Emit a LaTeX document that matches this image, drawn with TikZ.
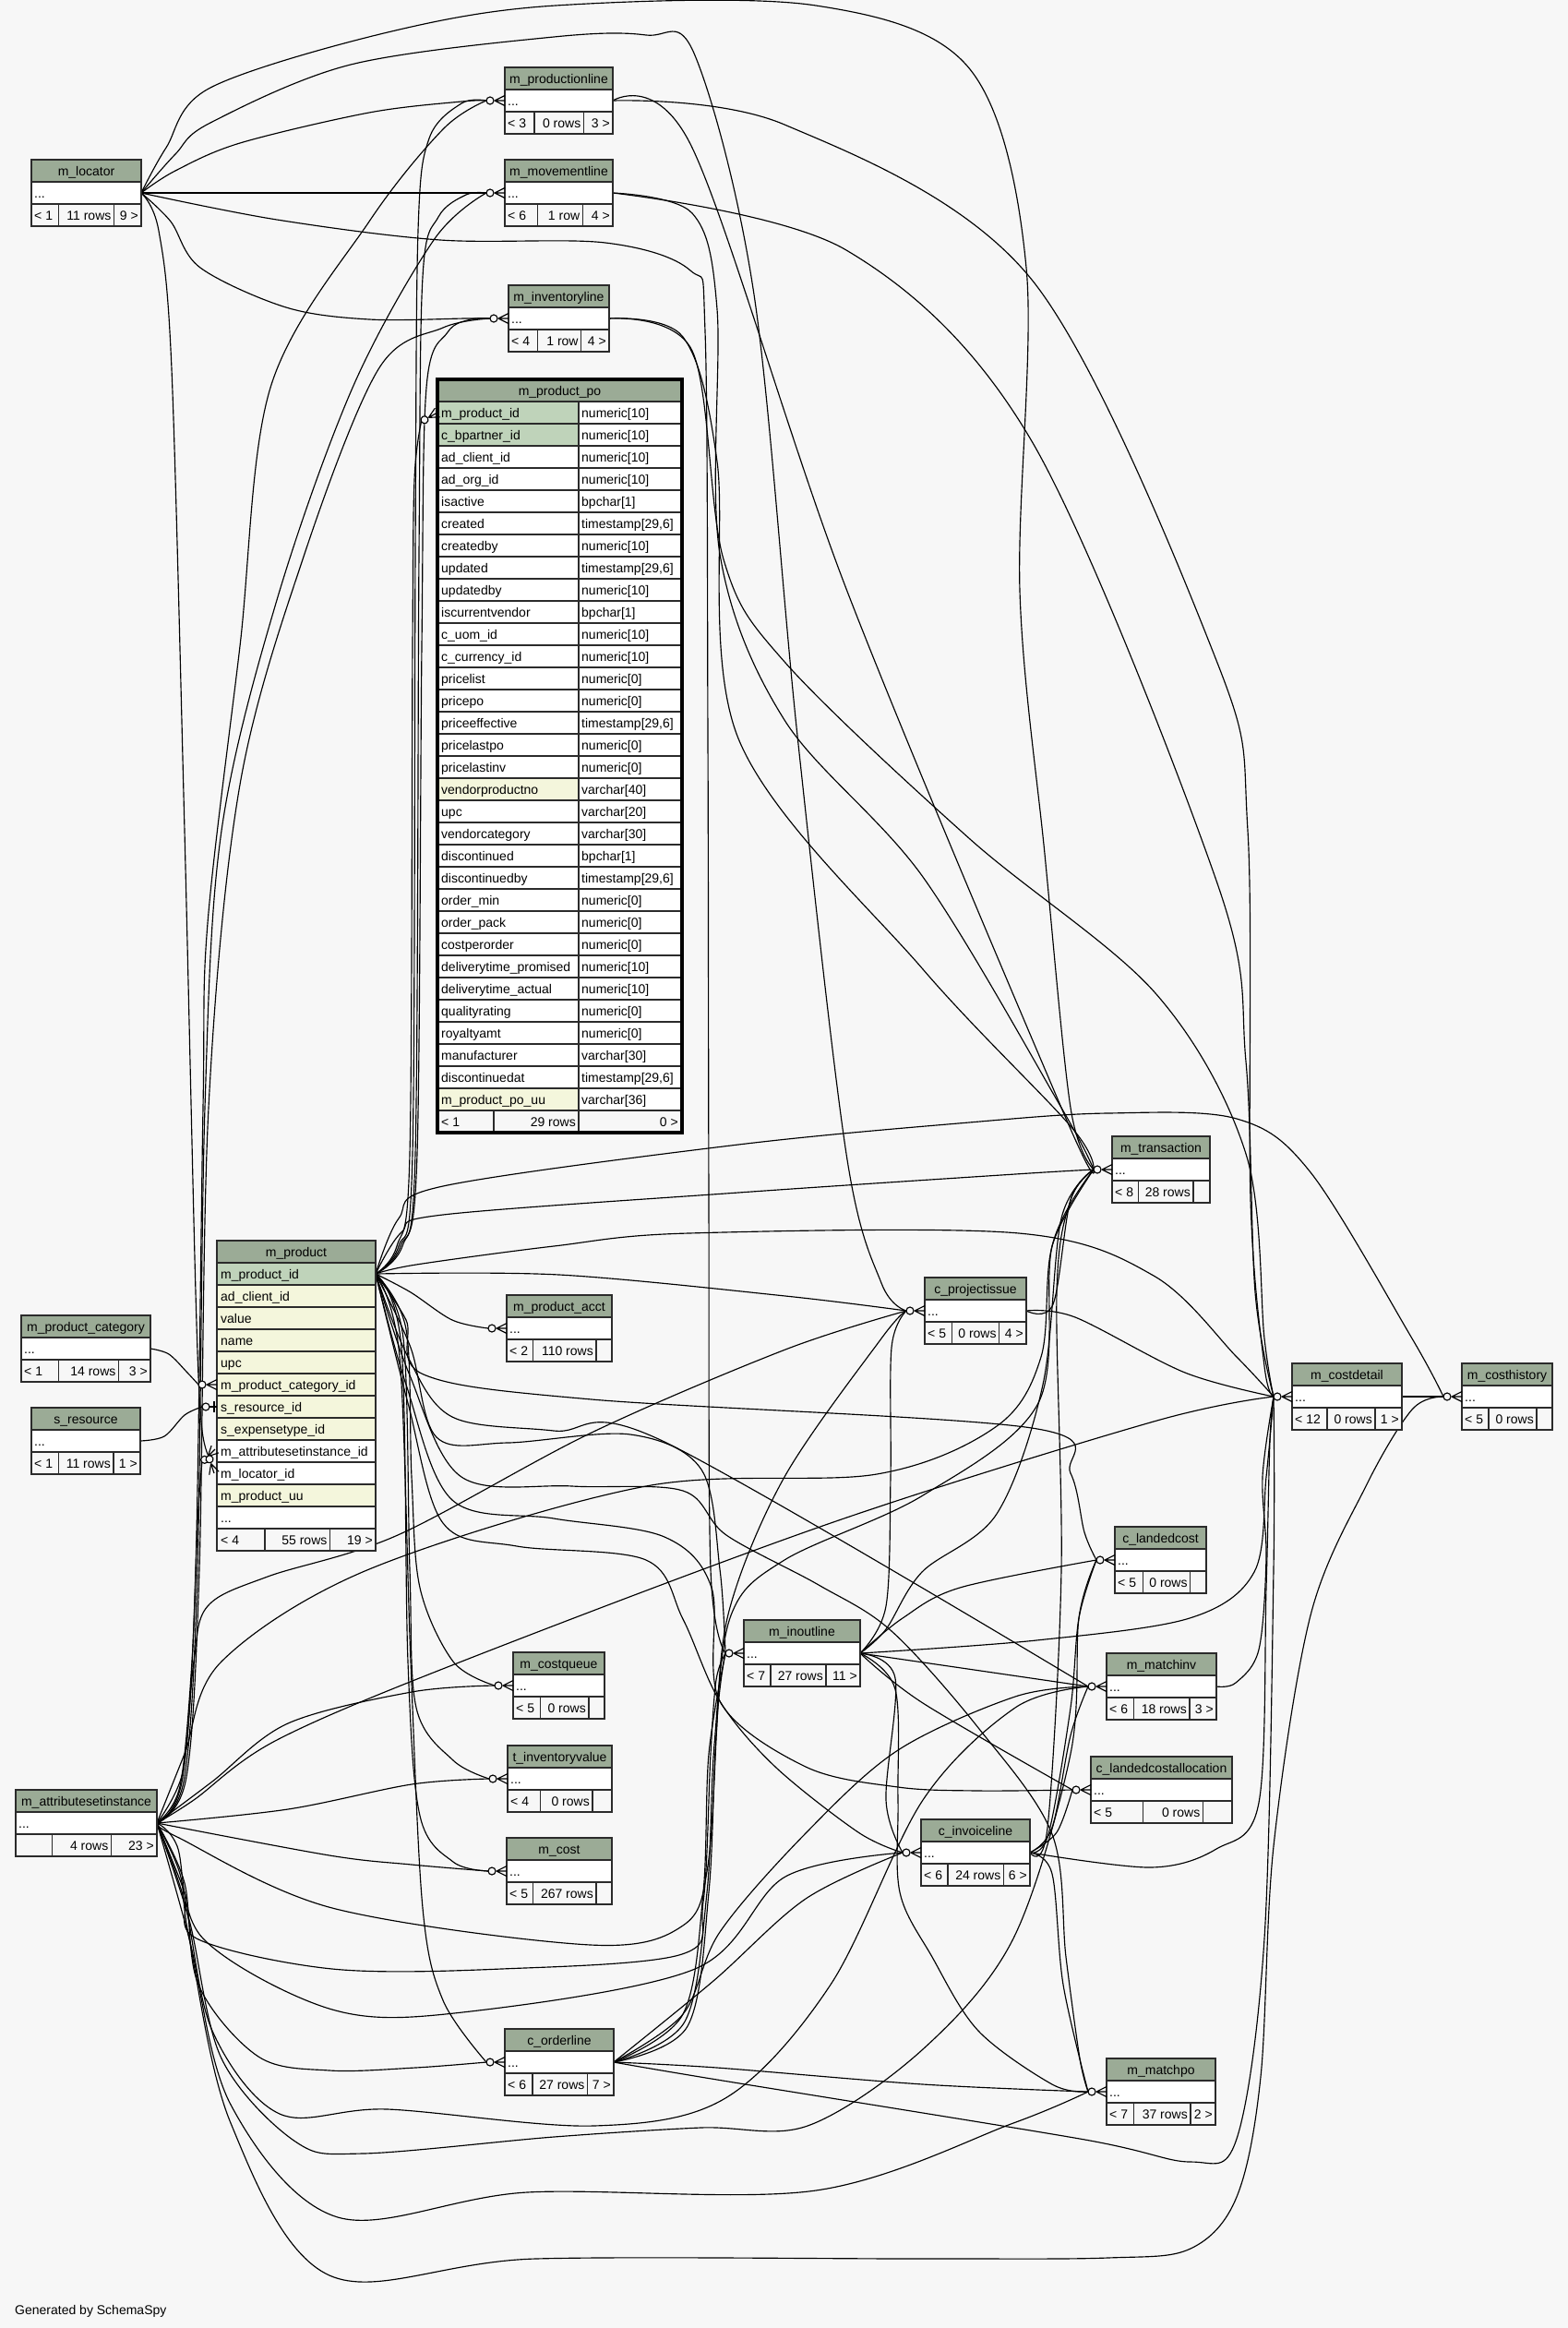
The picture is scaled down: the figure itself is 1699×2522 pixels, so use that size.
\documentclass[tikz,border=0pt]{standalone}
\usepackage{fontspec}
\setmainfont{Liberation Sans}
\definecolor{bgc}{HTML}{F7F7F7}
\definecolor{hdrc}{HTML}{9BAB96}
\definecolor{pkc}{HTML}{BFD3BA}
\definecolor{idxc}{HTML}{F4F6DC}
\definecolor{bordc}{HTML}{2B2B2B}
\tikzset{
  rel/.style={draw=black,line width=1.15pt,line join=round},
  cell/.style={draw=bordc,line width=1.3pt},
  txt/.style={inner sep=0pt,font=\fontsize{14}{16}\selectfont,text=black},
  crowfoot/.pic={
    \filldraw[fill=bgc,draw=black,line width=1.15pt] (-16,0) circle [radius=4];
    \draw[rel] (-11,0) -- (0,5.5) (-11,0) -- (0,0) (-11,0) -- (0,-5.5);
  },
  onebar/.pic={
    \filldraw[fill=bgc,draw=black,line width=1.15pt] (-12,0) circle [radius=4];
    \draw[rel] (-8,0) -- (0,0);
    \draw[black,line width=2.2pt] (-3,-6) -- (-3,6);
  }
}
\newcommand\setfoot[3]{\def\FL{#1}\def\FM{#2}\def\FR{#3}}
\newcommand\simpletbl[7]{%
  \pgfmathsetmacro\ya{#3+24}%
  \pgfmathsetmacro\yb{#3+48}%
  \pgfmathsetmacro\yc{#3+72}%
  \fill[bgc] (#2,#3) rectangle (#4,\yc);
  \fill[hdrc] (#2,#3) rectangle (#4,\ya);
  \fill[white] (#2,\ya) rectangle (#4,\yb);
  \draw[cell] (#2,#3) rectangle (#4,\yc) (#2,\ya) -- (#4,\ya) (#2,\yb) -- (#4,\yb) (#6,\yb) -- (#6,\yc) (#7,\yb) -- (#7,\yc);
  \node[txt,anchor=base] (#1) at ({(#2+#4)/2},{#3+17}) {#5};
  \node[txt,anchor=base west] at (#2+3,{#3+41}) {...};
  \node[txt,anchor=base west] at (#2+3,{#3+65}) {\FL};
  \node[txt,anchor=base east] at (#7-3,{#3+65}) {\FM};
  \node[txt,anchor=base east] at (#4-3,{#3+65}) {\FR};
  \coordinate (#1-i) at (#2,{#3+36});
  \coordinate (#1-o) at (#4,{#3+36});
  \coordinate (#1-e) at (#2-20,{#3+36});
}
\begin{document}
\begin{tikzpicture}[x=1pt,y=-1pt]
\useasboundingbox (0,0) rectangle (1699,2522);
\fill[bgc] (0,0) rectangle (1699,2522);

% ---------- port coordinates ----------
\coordinate (loc-o) at (153,209);
\coordinate (pl-i) at (547,109); \coordinate (pl-o) at (664,109); \coordinate (pl-e) at (527,109);
\coordinate (mv-i) at (547,209); \coordinate (mv-o) at (664,209); \coordinate (mv-e) at (527,209);
\coordinate (il-i) at (551,345); \coordinate (il-o) at (660,345); \coordinate (il-e) at (531,345);
\coordinate (po-i) at (474,447); \coordinate (po-e) at (456.5,456.7);
\coordinate (pr-o) at (407,1380);
\coordinate (prcat-i) at (235,1500); \coordinate (prcat-e) at (215,1500);
\coordinate (prres-i) at (235,1524); \coordinate (prres-e) at (219,1524);
\coordinate (prasi-i) at (233,1570); \coordinate (prasi-e) at (218.9,1584);
\coordinate (prloc-i) at (232,1596); \coordinate (prloc-e) at (225.8,1577);
\coordinate (cat-o) at (163,1461);
\coordinate (res-o) at (152,1561);
\coordinate (asi-o) at (170,1975);
\coordinate (acct-e) at (529,1439);
\coordinate (cq-e) at (536,1826);
\coordinate (tiv-e) at (530,1927);
\coordinate (cost-e) at (529,2027);
\coordinate (ol-e) at (527,2234); \coordinate (ol-o) at (665,2234);
\coordinate (tr-e) at (1185,1267);
\coordinate (cpi-e) at (982,1420); \coordinate (cpi-o) at (1112,1420);
\coordinate (cd-e) at (1380,1513); \coordinate (cd-o) at (1519,1513);
\coordinate (ch-e) at (1564,1513);
\coordinate (io-e) at (786,1791); \coordinate (io-o) at (932,1791);
\coordinate (lc-e) at (1188,1690);
\coordinate (mi-e) at (1179,1827); \coordinate (mi-o) at (1318,1827);
\coordinate (lca-e) at (1162,1939);
\coordinate (inv-e) at (978,2007); \coordinate (inv-o) at (1116,2007);
\coordinate (mp-e) at (1179,2266);

% ---------- connectors ----------
\begin{scope}[rel]
% m_locator
\draw plot[smooth,tension=0.55] coordinates {(loc-o) (190,185) (260,155) (400,122) (500,110) (pl-e)};
\draw (loc-o) -- (mv-e);
\draw plot[smooth,tension=0.55] coordinates {(loc-o) (185,240) (217,290) (310,333) (400,346) (505,345) (il-e)};
\draw plot[smooth,tension=0.55] coordinates {(loc-o) (172,250) (186,400) (200,900) (212,1400) (218,1540) (prloc-e)};
\draw plot[smooth,tension=0.55] coordinates {(loc-o) (180,160) (228,95) (420,35) (602,6) (884,6) (1051,75) (1112,290) (1105,640) (1132,925) (1160,1200) (tr-e)};
\draw plot[smooth,tension=0.55] coordinates {(loc-o) (190,167) (228,133) (380,70) (600,40) (700,38) (753,60) (817,319) (864,797) (917,1250) (955,1390) (cpi-e)};
\draw plot[smooth,tension=0.55] coordinates {(loc-o) (300,238) (477,260) (656,263) (748,293) (764,359) (767,800) (768,1300) (770,1700) (io-e)};
% category / resource
\draw plot[smooth,tension=0.55] coordinates {(cat-o) (183,1467) (203,1487) (prcat-e)};
\draw plot[smooth,tension=0.55] coordinates {(res-o) (178,1556) (200,1533) (prres-e)};
% m_product children
\draw plot[smooth,tension=0.55] coordinates {(pr-o) (432,1350) (447,1250) (450,600) (453,250) (465,150) (500,112) (pl-e)};
\draw plot[smooth,tension=0.55] coordinates {(pr-o) (434,1350) (450,1250) (454,600) (458,300) (475,235) (505,211) (mv-e)};
\draw plot[smooth,tension=0.55] coordinates {(pr-o) (436,1350) (452,1250) (457,700) (462,420) (485,360) (510,346) (il-e)};
\draw plot[smooth,tension=0.55] coordinates {(pr-o) (430,1350) (444,1250) (447,700) (449,520) (po-e)};
\draw plot[smooth,tension=0.55] coordinates {(pr-o) (435,1335) (480,1316) (800,1292) (1100,1272) (tr-e)};
\draw plot[smooth,tension=0.55] coordinates {(pr-o) (432,1320) (480,1285) (800,1240) (1050,1216) (1200,1206) (1340,1212) (1420,1270) (1530,1450) (ch-e)};
\draw plot[smooth,tension=0.55] coordinates {(pr-o) (451,1370) (600,1350) (746,1336) (1104,1336) (1250,1382) (1340,1470) (cd-e)};
\draw plot[smooth,tension=0.55] coordinates {(pr-o) (606,1381) (851,1404) (cpi-e)};
\draw plot[smooth,tension=0.55] coordinates {(pr-o) (445,1400) (490,1430) (acct-e)};
\draw plot[smooth,tension=0.55] coordinates {(pr-o) (440,1430) (459,1489) (641,1516) (1118,1547) (1160,1596) (1175,1660) (lc-e)};
\draw plot[smooth,tension=0.55] coordinates {(pr-o) (445,1460) (473,1557) (550,1563) (683,1554) (760,1592) (780,1700) (io-e)};
\draw plot[smooth,tension=0.55] coordinates {(pr-o) (440,1440) (446,1600) (455,1720) (491,1800) (cq-e)};
\draw plot[smooth,tension=0.55] coordinates {(pr-o) (437,1450) (444,1700) (451,1850) (491,1907) (tiv-e)};
\draw plot[smooth,tension=0.55] coordinates {(pr-o) (435,1460) (442,1800) (455,1967) (491,2017) (cost-e)};
\draw plot[smooth,tension=0.55] coordinates {(pr-o) (433,1470) (445,1800) (458,2067) (480,2167) (ol-e)};
\draw plot[smooth,tension=0.55] coordinates {(pr-o) (442,1470) (490,1535) (600,1550) (720,1562) (mi-e)};
\draw plot[smooth,tension=0.55] coordinates {(pr-o) (444,1490) (500,1600) (620,1610) (740,1615) (787,1663) (887,1717) (966,1767) (1061,1873) (1140,1987) (1155,2120) (1170,2230) (mp-e)};
\draw plot[smooth,tension=0.55] coordinates {(pr-o) (440,1500) (490,1625) (600,1645) (720,1665) (771,1720) (780,1843) (873,1914) (973,1936) (1060,1940) (lca-e)};
\draw plot[smooth,tension=0.55] coordinates {(pr-o) (442,1520) (480,1650) (560,1675) (700,1690) (740,1754) (780,1843) (840,1914) (930,1985) (inv-e)};
% m_attributesetinstance children
\draw plot[smooth,tension=0.55] coordinates {(asi-o) (195,1935) (208,1800) (214,1650) (prasi-e)};
\draw plot[smooth,tension=0.55] coordinates {(asi-o) (198,1925) (212,1700) (220,1200) (225,1000) (260,700) (293,420) (400,240) (480,140) (pl-e)};
\draw plot[smooth,tension=0.55] coordinates {(asi-o) (200,1925) (214,1700) (222,1200) (240,900) (300,650) (382,420) (470,260) (mv-e)};
\draw plot[smooth,tension=0.55] coordinates {(asi-o) (202,1925) (216,1700) (226,1200) (260,850) (330,600) (410,400) (480,355) (il-e)};
\draw plot[smooth,tension=0.55] coordinates {(asi-o) (200,1900) (240,1800) (400,1700) (700,1610) (950,1597) (1080,1545) (1128,1470) (1140,1350) (tr-e)};
\draw plot[smooth,tension=0.55] coordinates {(asi-o) (198,1920) (210,1800) (225,1740) (290,1708) (431,1663) (641,1552) (851,1462) (cpi-e)};
\draw plot[smooth,tension=0.55] coordinates {(asi-o) (210,1950) (300,1885) (500,1800) (900,1650) (1250,1540) (cd-e)};
\draw plot[smooth,tension=0.55] coordinates {(asi-o) (195,2030) (205,2100) (250,2300) (357,2465) (580,2447) (1000,2447) (1200,2446) (1290,2436) (1340,2380) (1366,2250) (1380,2000) (1420,1750) (1480,1610) (1530,1527) (ch-e)};
\draw plot[smooth,tension=0.55] coordinates {(asi-o) (192,2000) (220,2100) (360,2177) (501,2180) (753,2133) (851,2033) (inv-e)};
\draw plot[smooth,tension=0.55] coordinates {(asi-o) (200,2040) (215,2150) (280,2228) (357,2243) (450,2240) (ol-e)};
\draw plot[smooth,tension=0.55] coordinates {(asi-o) (200,2060) (230,2200) (303,2290) (420,2285) (643,2303) (786,2273) (900,2150) (1000,1950) (1100,1850) (mi-e)};
\draw plot[smooth,tension=0.55] coordinates {(asi-o) (205,2080) (240,2230) (320,2320) (393,2333) (600,2315) (759,2305) (875,2303) (1000,2220) (1098,2100) (1160,1900) (1169,1753) (lc-e)};
\draw plot[smooth,tension=0.55] coordinates {(asi-o) (205,2100) (250,2280) (366,2402) (571,2375) (884,2373) (1098,2300) (mp-e)};
\draw plot[smooth,tension=0.55] coordinates {(asi-o) (230,1930) (312,1867) (446,1833) (cq-e)};
\draw plot[smooth,tension=0.55] coordinates {(asi-o) (312,1960) (446,1933) (tiv-e)};
\draw plot[smooth,tension=0.55] coordinates {(asi-o) (357,2010) (446,2020) (cost-e)};
\draw plot[smooth,tension=0.55] coordinates {(asi-o) (192,1990) (360,2067) (640,2107) (740,2086) (767,2021) (778,1850) (io-e)};
\draw plot[smooth,tension=0.55] coordinates {(asi-o) (200,2050) (213,2100) (360,2133) (543,2133) (739,2117) (762,2060) (770,1900) (776,1820) (io-e)};
% productionline / movementline / inventoryline
\draw plot[smooth,tension=0.55] coordinates {(pl-o) (750,160) (917,638) (1150,1200) (tr-e)};
\draw plot[smooth,tension=0.55] coordinates {(pl-o) (850,135) (1118,303) (1319,718) (1352,900) (1355,1300) (1370,1480) (cd-e)};
\draw plot[smooth,tension=0.55] coordinates {(mv-o) (750,231) (777,335) (780,600) (850,780) (1000,950) (1150,1200) (tr-e)};
\draw plot[smooth,tension=0.55] coordinates {(mv-o) (917,271) (1118,478) (1319,957) (1350,1150) (1360,1400) (cd-e)};
\draw plot[smooth,tension=0.55] coordinates {(il-o) (740,365) (777,500) (800,800) (1000,1050) (1160,1220) (tr-e)};
\draw plot[smooth,tension=0.55] coordinates {(il-o) (750,380) (784,606) (851,718) (1051,909) (1252,1076) (1350,1250) (1370,1450) (cd-e)};
% c_projectissue
\draw plot[smooth,tension=0.55] coordinates {(cpi-o) (1141,1413) (1160,1300) (tr-e)};
\draw plot[smooth,tension=0.55] coordinates {(cpi-o) (1165,1427) (1284,1487) (cd-e)};
% m_inoutline
\draw plot[smooth,tension=0.55] coordinates {(io-o) (960,1765) (999,1703) (1080,1640) (1130,1500) (1150,1320) (tr-e)};
\draw plot[smooth,tension=0.55] coordinates {(io-o) (978,1753) (1040,1720) (lc-e)};
\draw plot[smooth,tension=0.55] coordinates {(io-o) (1123,1777) (1289,1753) (1359,1703) (1372,1600) (cd-e)};
\draw (io-o) -- (mi-e);
\draw plot[smooth,tension=0.55] coordinates {(io-o) (1000,1845) (lca-e)};
\draw plot[smooth,tension=0.55] coordinates {(io-o) (970,1818) (960,1950) (inv-e)};
\draw plot[smooth,tension=0.55] coordinates {(io-o) (970,1830) (973,1950) (975,2050) (1010,2120) (1060,2200) (1140,2258) (mp-e)};
\draw plot[smooth,tension=0.55] coordinates {(io-o) (960,1740) (965,1600) (966,1460) (cpi-e)};
% c_invoiceline
\draw plot[smooth,tension=0.55] coordinates {(inv-o) (1247,2023) (1318,2003) (1364,1953) (1372,1720) (1376,1560) (cd-e)};
\draw plot[smooth,tension=0.55] coordinates {(inv-o) (1136,1987) (1160,1850) (1169,1753) (lc-e)};
\draw plot[smooth,tension=0.55] coordinates {(inv-o) (1140,1980) (1160,1880) (mi-e)};
\draw plot[smooth,tension=0.55] coordinates {(inv-o) (1145,1985) (lca-e)};
\draw plot[smooth,tension=0.55] coordinates {(inv-o) (1140,2030) (1152,2150) (mp-e)};
\draw plot[smooth,tension=0.55] coordinates {(inv-o) (1135,1980) (1150,1700) (1145,1400) (1160,1300) (tr-e)};
% c_orderline
\draw plot[smooth,tension=0.55] coordinates {(ol-o) (777,2240) (1000,2258) (mp-e)};
\draw plot[smooth,tension=0.55] coordinates {(ol-o) (777,2253) (1170,2317) (1290,2342) (1340,2317) (1370,2100) (1380,1700) (cd-e)};
\draw plot[smooth,tension=0.55] coordinates {(ol-o) (740,2182) (762,2050) (768,1900) (io-e)};
\draw plot[smooth,tension=0.55] coordinates {(ol-o) (773,2146) (873,2057) (inv-e)};
\draw plot[smooth,tension=0.55] coordinates {(ol-o) (745,2195) (768,2050) (776,1880) (790,1745) (850,1600) (955,1450) (cpi-e)};
\draw plot[smooth,tension=0.55] coordinates {(ol-o) (742,2190) (766,2050) (774,1890) (792,1750) (850,1690) (1000,1620) (1125,1520) (1140,1350) (tr-e)};
\draw plot[smooth,tension=0.55] coordinates {(ol-o) (740,2182) (780,2093) (873,1986) (973,1896) (1100,1838) (mi-e)};
% m_matchinv, m_costdetail
\draw plot[smooth,tension=0.55] coordinates {(mi-o) (1339,1823) (1364,1787) (1372,1687) (1368,1600) (cd-e)};
\draw (cd-o) -- (ch-e);
\end{scope}

% ---------- tables ----------
\setfoot{< 1}{11 rows}{9 >}\simpletbl{loc}{34}{173}{153}{m\_locator}{63.4}{123.6}
\setfoot{< 3}{0 rows}{3 >}\simpletbl{pl}{547}{73}{664}{m\_productionline}{579}{632.5}
\setfoot{< 6}{1 row}{4 >}\simpletbl{mv}{547}{173}{664}{m\_movementline}{582.7}{631.4}
\setfoot{< 4}{1 row}{4 >}\simpletbl{il}{551}{309}{660}{m\_inventoryline}{582.7}{629.8}
\setfoot{< 1}{14 rows}{3 >}\simpletbl{cat}{23}{1425}{163}{m\_product\_category}{63.4}{128.6}
\setfoot{< 1}{11 rows}{1 >}\simpletbl{res}{34}{1525}{152}{s\_resource}{63.4}{123}
\setfoot{}{4 rows}{23 >}\simpletbl{asi}{17}{1939}{170}{m\_attributesetinstance}{56.7}{120.5}
\setfoot{< 2}{110 rows}{}\simpletbl{acct}{549}{1403}{663}{m\_product\_acct}{577.7}{646}
\setfoot{< 5}{0 rows}{}\simpletbl{cq}{556}{1790}{655}{m\_costqueue}{585.7}{638}
\setfoot{< 4}{0 rows}{}\simpletbl{tiv}{550}{1891}{663}{t\_inventoryvalue}{585.7}{642}
\setfoot{< 5}{267 rows}{}\simpletbl{cost}{549}{1991}{663}{m\_cost}{577.7}{646}
\setfoot{< 6}{27 rows}{7 >}\simpletbl{ol}{547}{2198}{665}{c\_orderline}{577}{636.6}
\setfoot{< 8}{28 rows}{}\simpletbl{tr}{1205}{1231}{1311}{m\_transaction}{1233.7}{1293}
\setfoot{< 5}{0 rows}{4 >}\simpletbl{cpi}{1002}{1384}{1112}{c\_projectissue}{1031.7}{1082.8}
\setfoot{< 12}{0 rows}{1 >}\simpletbl{cd}{1400}{1477}{1519}{m\_costdetail}{1438}{1490}
\setfoot{< 5}{0 rows}{}\simpletbl{ch}{1584}{1477}{1682}{m\_costhistory}{1613}{1665}
\setfoot{< 7}{27 rows}{11 >}\simpletbl{io}{806}{1755}{932}{m\_inoutline}{835}{895}
\setfoot{< 5}{0 rows}{}\simpletbl{lc}{1208}{1654}{1307}{c\_landedcost}{1238.4}{1289.8}
\setfoot{< 6}{18 rows}{3 >}\simpletbl{mi}{1199}{1791}{1318}{m\_matchinv}{1228.4}{1289}
\setfoot{< 5}{0 rows}{}\simpletbl{lca}{1182}{1903}{1335}{c\_landedcostallocation}{1238.4}{1303.5}
\setfoot{< 6}{24 rows}{6 >}\simpletbl{inv}{998}{1971}{1116}{c\_invoiceline}{1027}{1087.5}
\setfoot{< 7}{37 rows}{2 >}\simpletbl{mp}{1199}{2230}{1317}{m\_matchpo}{1228.6}{1290}

% m_product
\fill[bgc] (235,1344) rectangle (407,1680);
\fill[hdrc] (235,1344) rectangle (407,1368);
\node[txt,anchor=base] (pr) at (321,1361) {m\_product};
\foreach \nm/\fc [count=\i] in {m\_product\_id/pkc, ad\_client\_id/idxc, value/idxc, name/idxc, upc/idxc, m\_product\_category\_id/idxc, s\_resource\_id/idxc, s\_expensetype\_id/idxc, m\_attributesetinstance\_id/white, m\_locator\_id/white, m\_product\_uu/idxc}{
  \pgfmathsetmacro\yt{1344+24*\i}
  \fill[\fc] (235,\yt) rectangle (407,\yt+24);
  \draw[cell] (235,\yt) -- (407,\yt);
  \node[txt,anchor=base west] at (239,\yt+17) {\nm};
}
\fill[white] (235,1632) rectangle (407,1656);
\draw[cell] (235,1632) -- (407,1632) (235,1656) -- (407,1656) (287,1656) -- (287,1680) (357.6,1656) -- (357.6,1680);
\node[txt,anchor=base west] at (239,1649) {...};
\node[txt,anchor=base west] at (239,1673) {< 4};
\node[txt,anchor=base east] at (354.6,1673) {55 rows};
\node[txt,anchor=base east] at (404,1673) {19 >};
\draw[cell] (235,1344) rectangle (407,1680);

% m_product_po
\fill[bgc] (474,411) rectangle (739,1227);
\fill[hdrc] (474,411) rectangle (739,435);
\node[txt,anchor=base] (po) at (606.5,428) {m\_product\_po};
\foreach \nm/\ty/\fc [count=\i] in {
  m\_product\_id/{numeric[10]}/pkc, c\_bpartner\_id/{numeric[10]}/pkc,
  ad\_client\_id/{numeric[10]}/white, ad\_org\_id/{numeric[10]}/white,
  isactive/{bpchar[1]}/white, created/{timestamp[29,6]}/white,
  createdby/{numeric[10]}/white, updated/{timestamp[29,6]}/white,
  updatedby/{numeric[10]}/white, iscurrentvendor/{bpchar[1]}/white,
  c\_uom\_id/{numeric[10]}/white, c\_currency\_id/{numeric[10]}/white,
  pricelist/{numeric[0]}/white, pricepo/{numeric[0]}/white,
  priceeffective/{timestamp[29,6]}/white, pricelastpo/{numeric[0]}/white,
  pricelastinv/{numeric[0]}/white, vendorproductno/{varchar[40]}/idxc,
  upc/{varchar[20]}/white, vendorcategory/{varchar[30]}/white,
  discontinued/{bpchar[1]}/white, discontinuedby/{timestamp[29,6]}/white,
  order\_min/{numeric[0]}/white, order\_pack/{numeric[0]}/white,
  costperorder/{numeric[0]}/white, deliverytime\_promised/{numeric[10]}/white,
  deliverytime\_actual/{numeric[10]}/white, qualityrating/{numeric[0]}/white,
  royaltyamt/{numeric[0]}/white, manufacturer/{varchar[30]}/white,
  discontinuedat/{timestamp[29,6]}/white, m\_product\_po\_uu/{varchar[36]}/idxc}{
  \pgfmathsetmacro\yt{411+24*\i}
  \fill[\fc] (474,\yt) rectangle (627,\yt+24);
  \fill[white] (627,\yt) rectangle (739,\yt+24);
  \draw[cell] (474,\yt) -- (739,\yt);
  \node[txt,anchor=base west] at (478,\yt+17) {\nm};
  \node[txt,anchor=base west] at (630,\yt+17) {\ty};
}
\fill[bgc] (474,1203) rectangle (739,1227);
\draw[cell] (474,1203) -- (739,1203) (627,435) -- (627,1227) (535,1203) -- (535,1227);
\node[txt,anchor=base west] at (478,1220) {< 1};
\node[txt,anchor=base east] at (624,1220) {29 rows};
\node[txt,anchor=base east] at (735,1220) {0 >};
\draw[black,line width=3.6pt] (474,411) rectangle (739,1227);

% ---------- relationship ends ----------
\foreach \p in {pl-i,mv-i,il-i,tr-i,cpi-i,cd-i,ch-i,io-i,lc-i,mi-i,lca-i,inv-i,mp-i,acct-i,cq-i,tiv-i,cost-i,ol-i,prcat-i}
  \pic at (\p) {crowfoot};
\pic at (prres-i) {onebar};
\pic[rotate=45] at (prasi-i) {crowfoot};
\pic[rotate=-72] at (prloc-i) {crowfoot};
\pic[rotate=29] at (po-i) {crowfoot};

\node[txt,anchor=base west] (gen) at (16,2507) {Generated by SchemaSpy};
\end{tikzpicture}
\end{document}
